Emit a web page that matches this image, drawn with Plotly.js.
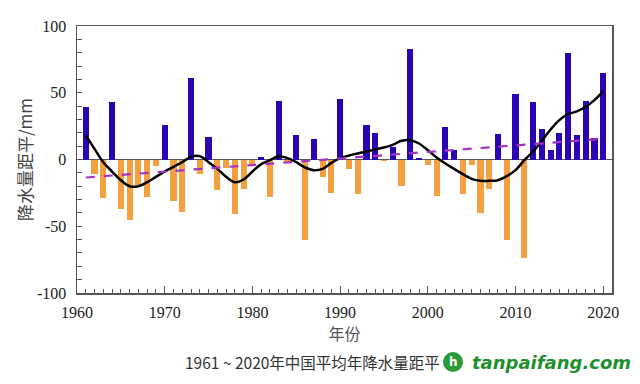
<!DOCTYPE html>
<html>
<head>
<meta charset="utf-8">
<script src="https://cdn.plot.ly/plotly-3.0.1.min.js"></script>
<style>
html,body{margin:0;padding:0;background:#fff;}
#chart{width:640px;height:384px;}
</style>
</head>
<body>
<div id="chart"></div>
<script>
const years = [1961,1962,1963,1964,1965,1966,1967,1968,1969,1970,
  1971,1972,1973,1974,1975,1976,1977,1978,1979,1980,
  1981,1982,1983,1984,1985,1986,1987,1988,1989,1990,
  1991,1992,1993,1994,1995,1996,1997,1998,1999,2000,
  2001,2002,2003,2004,2005,2006,2007,2008,2009,2010,
  2011,2012,2013,2014,2015,2016,2017,2018,2019,2020];

const anomaly = [39,-11,-29,43,-37,-45,-20,-28,-5,26,
  -31,-39,61,-11,17,-23,-6,-41,-22,-3,
  2,-28,44,-2,18,-60,15,-13,-25,45,
  -7,-26,26,20,-1,9,-20,83,1,-4,
  -27,24,7,-26,-4,-40,-22,19,-60,49,
  -74,43,23,7,20,80,18,44,16,65];

const smooth = [18,8,-2,-9,-15.5,-20,-20,-17,-13,-9,
  -5.5,-2,2,2.5,-2,-7,-13,-17,-15,-9,
  -3.5,-0.5,2.5,1,-2,-6,-8,-7,-2.5,1,
  3,4.5,6,7.5,9,11,14,14.5,12,7,
  1.5,-3,-7,-11,-14.5,-16,-16,-15.5,-12.5,-8,
  -0.5,6,14,22.5,29.5,34,36,39.5,44.5,51];

const trendYears = [1961, 2020];
const trendValues = [-13.5, 15.5];

const xTicks = [1960,1970,1980,1990,2000,2010,2020];
const yTicks = [-100,-50,0,50,100];

const posColor = '#2b05b3';
const negColor = '#f4a040';
const barColors = anomaly.map(v => v >= 0 ? posColor : negColor);

const traces = [
  {type:'bar', x:years, y:anomaly, marker:{color:barColors, line:{width:0}}, width:0.7, hoverinfo:'x+y'},
  {type:'scatter', mode:'lines', x:years, y:smooth, line:{color:'#000', width:2.5, shape:'spline', smoothing:1}},
  {type:'scatter', mode:'lines', x:trendYears, y:trendValues, line:{color:'#a634c4', width:2.2, dash:'dash'}}
];

const axisFont = {family:'Liberation Serif, Times New Roman, serif', size:16, color:'#222'};

const layout = {
  width:640, height:384,
  margin:{l:77, r:28, t:26, b:91},
  paper_bgcolor:'#fff', plot_bgcolor:'#fff',
  showlegend:false,
  bargap:0,
  xaxis:{
    range:[1960,2021], tickvals:xTicks, ticktext:xTicks.map(String),
    ticks:'inside', ticklen:7, tickcolor:'#555', tickwidth:1,
    minor:{dtick:1, tick0:1960, ticks:'inside', ticklen:4, tickcolor:'#555'},
    showline:true, linecolor:'#555', linewidth:1.5, mirror:true,
    showgrid:false, zeroline:false, tickfont:axisFont, ticklabelstandoff:4,
    title:{text:'年份', font:{family:'Noto Sans CJK SC', size:16, color:'#555'}, standoff:8}
  },
  yaxis:{
    range:[-100,100], tickvals:yTicks, ticktext:yTicks.map(String),
    ticks:'inside', ticklen:5, tickcolor:'#555',
    minor:{dtick:10, tick0:0, ticks:'inside', ticklen:5, tickcolor:'#555'},
    showline:true, linecolor:'#555', linewidth:1.5, mirror:true,
    showgrid:false, zeroline:true, zerolinecolor:'#555', zerolinewidth:1,
    tickfont:axisFont, ticklabelstandoff:6,
    title:{text:'降水量距平/mm', font:{family:'Noto Sans CJK SC', size:17, color:'#444'}, standoff:0}
  },
  shapes:[
    {type:'circle', xref:'paper', yref:'paper', x0:(443-77)/535, x1:(463-77)/535, y0:(293-372)/267, y1:(293-352)/267, fillcolor:'#2a9a3a', line:{width:0}}
  ],
  annotations:[
    {xref:'paper', yref:'paper', x:(183-77)/535, y:(293-362)/267, text:'1961 ~ 2020年中国平均年降水量距平', showarrow:false,
     font:{family:'Noto Sans CJK SC', size:15.5, color:'#333'}, xanchor:'left', yanchor:'middle'},
    {xref:'paper', yref:'paper', x:(453-77)/535, y:(293-362)/267, text:'<b>h</b>', showarrow:false,
     font:{family:'DejaVu Sans', size:12, color:'#fff'}, xanchor:'center', yanchor:'middle'},
    {xref:'paper', yref:'paper', x:(470-77)/535, y:(293-362)/267, text:'<b><i>tanpaifang.com</i></b>', showarrow:false,
     font:{family:'DejaVu Sans', size:18, color:'#1f8f2f'}, xanchor:'left', yanchor:'middle'}
  ]
};

Plotly.newPlot('chart', traces, layout, {displayModeBar:false, staticPlot:true});
</script>
</body>
</html>
